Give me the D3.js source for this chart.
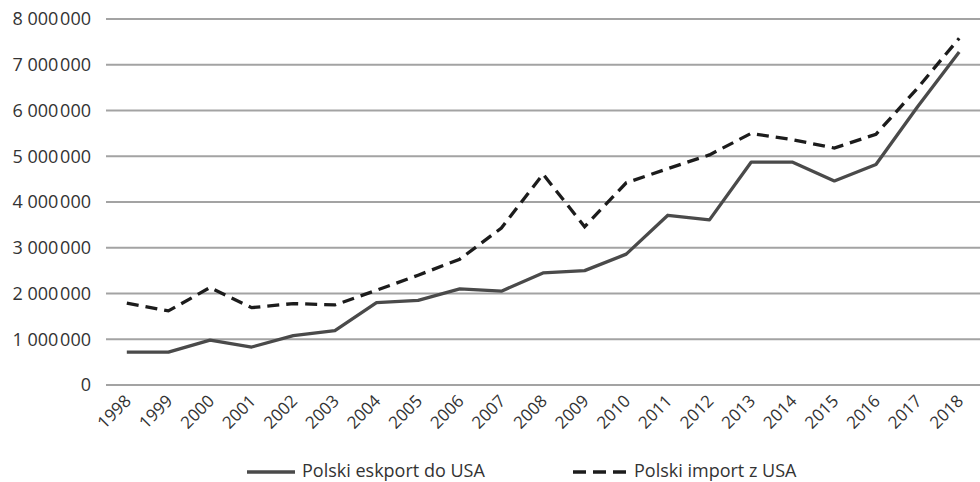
<!DOCTYPE html>
<html>
<head>
<meta charset="utf-8">
<script src="https://cdn.jsdelivr.net/npm/d3@7"></script>
<style>
  html, body { margin: 0; padding: 0; background: #fff; }
  svg { display: block; }
</style>
</head>
<body>
<script>
// Polski eksport / import z USA, 1998–2018

const years = ["1998", "1999", "2000", "2001", "2002", "2003", "2004", "2005", "2006", "2007",
  "2008", "2009", "2010", "2011", "2012", "2013", "2014", "2015", "2016", "2017", "2018"];

const exportValues = [720000, 720000, 980000, 830000, 1080000, 1190000, 1800000, 1850000, 2100000, 2050000,
  2450000, 2500000, 2860000, 3710000, 3610000, 4870000, 4870000, 4460000, 4820000, 6080000, 7280000];

const importValues = [1790000, 1620000, 2130000, 1690000, 1780000, 1750000, 2070000, 2400000, 2750000, 3430000,
  4610000, 3460000, 4420000, 4730000, 5030000, 5500000, 5360000, 5180000, 5480000, 6490000, 7580000];

const yTicks = [0, 1000000, 2000000, 3000000, 4000000, 5000000, 6000000, 7000000, 8000000];

const seriesNames = ["Polski eskport do USA", "Polski import z USA"];

// ---------------------------------------------------------------------------

const width = 980;
const height = 482;
const margin = { top: 19, right: 0, bottom: 97, left: 106 };

const svg = d3.select("body")
  .append("svg")
  .attr("width", width)
  .attr("height", height)
  .attr("font-family", "'Open Sans', sans-serif");

const x = d3.scaleBand().domain(years).range([margin.left, width - margin.right]);
const y = d3.scaleLinear().domain([0, 8000000]).range([height - margin.bottom, margin.top]);

// thousands grouped with spaces, e.g. "8 000 000"
function formatNum(d) {
  if (d === 0) return "0";
  const s = String(d);
  return s.slice(0, s.length - 6) + "\u00a0" + s.slice(-6, -3) + "\u200a" + s.slice(-3);
}

// Gridlines.
svg.append("g")
  .selectAll("line")
  .data(yTicks)
  .join("line")
  .attr("x1", margin.left)
  .attr("x2", width - margin.right)
  .attr("y1", (d) => y(d))
  .attr("y2", (d) => y(d))
  .attr("stroke", "#a3a3a3")
  .attr("stroke-width", 1.8);

// Y axis labels.
const yAxis = d3.axisLeft(y).tickValues(yTicks).tickFormat(formatNum).tickSize(0).tickPadding(15);
svg.append("g")
  .attr("transform", `translate(${margin.left},0)`)
  .call(yAxis)
  .call((g) => g.select(".domain").remove())
  .selectAll("text")
  .attr("font-size", 18)
  .attr("font-family", "'Open Sans', sans-serif")
  .attr("fill", "#333");

// X axis labels, rotated.
const xAxis = d3.axisBottom(x).tickSize(0).tickPadding(0);
svg.append("g")
  .attr("transform", `translate(0,${height - margin.bottom})`)
  .call(xAxis)
  .call((g) => g.select(".domain").remove())
  .selectAll("text")
  .attr("font-size", 17)
  .attr("font-family", "'Open Sans', sans-serif")
  .attr("fill", "#333")
  .attr("text-anchor", "end")
  .attr("dy", null)
  .attr("transform", "translate(2,14) rotate(-45)")
  .attr("dominant-baseline", "middle");

// Lines.
const line = d3.line()
  .x((d, i) => x(years[i]) + x.bandwidth() / 2)
  .y((d) => y(d));

svg.append("path")
  .datum(exportValues)
  .attr("fill", "none")
  .attr("stroke", "#4a4a4a")
  .attr("stroke-width", 3.3)
  .attr("stroke-linejoin", "round")
  .attr("d", line);

svg.append("path")
  .datum(importValues)
  .attr("fill", "none")
  .attr("stroke", "#1c1c1c")
  .attr("stroke-width", 3.3)
  .attr("stroke-dasharray", "12,7")
  .attr("d", line);

// Legend.
const legend = svg.append("g").attr("transform", `translate(0,472)`);
const legendItems = [
  { name: seriesNames[0], x: 247, w: 48, stroke: "#4a4a4a", dash: null },
  { name: seriesNames[1], x: 573, w: 54, stroke: "#1c1c1c", dash: "13,7" }
];
for (const item of legendItems) {
  legend.append("line")
    .attr("x1", item.x)
    .attr("x2", item.x + item.w)
    .attr("y1", 0)
    .attr("y2", 0)
    .attr("stroke", item.stroke)
    .attr("stroke-width", 3.5)
    .attr("stroke-dasharray", item.dash);
  legend.append("text")
    .attr("x", item.x + item.w + 7)
    .attr("y", 0)
    .attr("dominant-baseline", "middle")
    .attr("font-size", 18)
    .attr("fill", "#333")
    .text(item.name);
}
</script>
</body>
</html>
